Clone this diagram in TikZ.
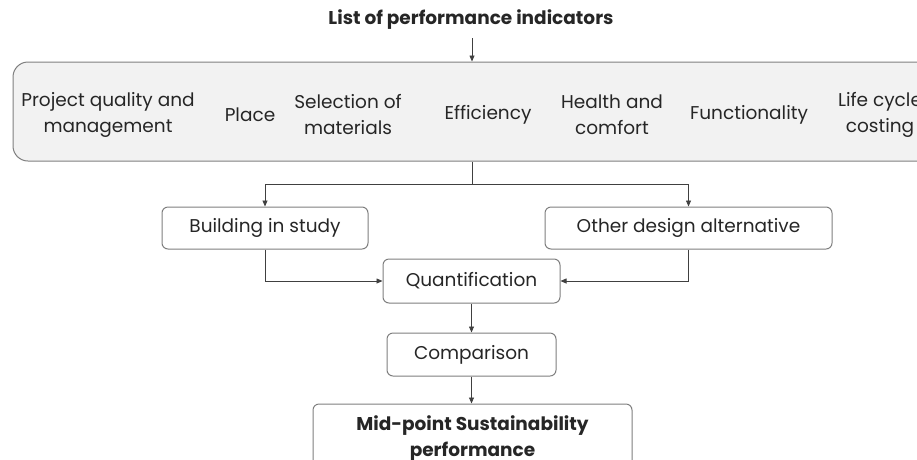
\documentclass[tikz,border=0pt]{standalone}
\usepackage{fontspec}
\setmainfont{Poppins}
\usetikzlibrary{arrows.meta}
\definecolor{txt}{HTML}{262626}
\definecolor{edge}{HTML}{7F7F7F}
\definecolor{line}{HTML}{404040}
\definecolor{panel}{HTML}{F2F2F2}
\newcommand{\bodyfont}{\fontsize{18.5}{26}\selectfont}
\tikzset{
  box/.style={draw=edge, line width=1pt, rounded corners=6pt, fill=white,
    text=txt, font=\bodyfont, align=center, inner sep=0pt},
  item/.style={text=txt, font=\bodyfont, align=center, inner sep=0pt},
  arr/.style={draw=line, line width=0.8pt, -{Triangle[length=6pt,width=5pt]}},
  plain/.style={draw=line, line width=0.8pt},
}
\begin{document}
\begin{tikzpicture}[x=1pt, y=-1pt]
\useasboundingbox (0,0) rectangle (917,459);
\clip (0,0) rectangle (917,459);

% heading
\node[item, font=\bodyfont\bfseries] (title) at (471,20) {List of performance indicators};
\coordinate (tfoot) at (472,38);

% panel of indicators
\node[draw=edge, line width=1pt, fill=panel, rounded corners=15pt,
  minimum width=940pt, minimum height=99pt, inner sep=0pt] (panel) at (483,111.5) {};
\node[item] (i1) at (108,115) {Project quality and\\management};
\node[item] (i2) at (250,115) {Place};
\node[item] (i3) at (348,115) {Selection of\\materials};
\node[item] (i4) at (488,115) {Efficiency};
\node[item] (i5) at (612,115) {Health and\\comfort};
\node[item] (i6) at (749,115) {Functionality};
\node[item] (i7) at (880,115) {Life cycle\\costing};

% process boxes
\node[box, minimum width=206pt, minimum height=42pt] (bld) at (265,228) {Building in study};
\node[box, minimum width=287pt, minimum height=42pt] (oth) at (688.5,228) {Other design alternative};
\node[box, minimum width=177pt, minimum height=44pt] (quant) at (471.5,281) {Quantification};
\node[box, minimum width=169pt, minimum height=43pt] (comp) at (471.5,354.5) {Comparison};
\node[box, minimum width=319pt, minimum height=70pt, font=\bodyfont\bfseries] (res) at (472.5,439)
  {Mid-point Sustainability\\performance};

% connectors
\draw[arr] (tfoot) -- (tfoot |- panel.north);
\coordinate (pfoot) at (panel.south -| tfoot);
\coordinate (split) at (472,184);
\draw[plain] (pfoot) -- (split);
\draw[arr] (split) -| (bld.north);
\draw[arr] (split) -| (oth.north);
\draw[arr] (bld.south) |- (quant.west);
\draw[arr] (oth.south) |- (quant.east);
\draw[arr] (quant.south) -- (comp.north);
\draw[arr] (comp.south) -- (comp.south |- res.north);
\end{tikzpicture}
\end{document}
